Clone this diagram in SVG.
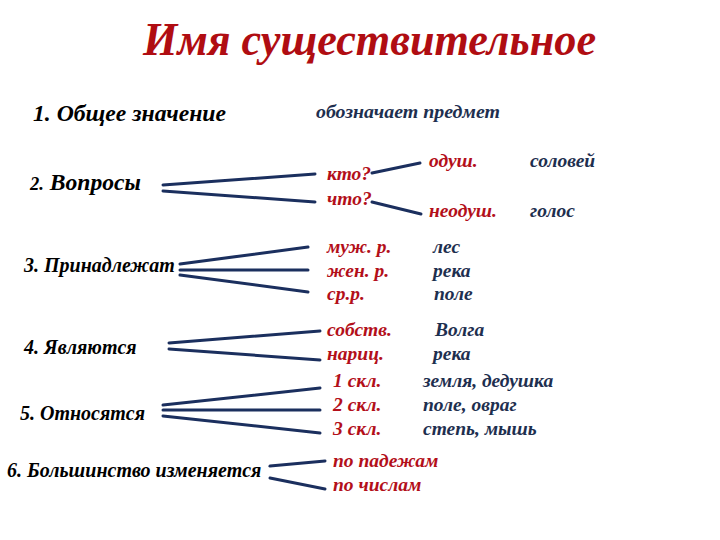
<svg xmlns="http://www.w3.org/2000/svg" width="720" height="540" viewBox="0 0 720 540">
<style>
text{font-family:"Liberation Serif","Times New Roman",serif;font-style:italic;font-weight:bold}
.t{fill:#b00d12;font-size:46px}
.h{fill:#000;font-size:20px}
.r{fill:#b30f1a;font-size:19.5px}
.b{fill:#1e2f4f;font-size:19.5px}
.c line{stroke:#1b2f5e;stroke-width:3;stroke-linecap:round}
</style>
<rect width="720" height="540" fill="#fff"/>
<text id="title" class="t" x="143" y="55" textLength="453" lengthAdjust="spacingAndGlyphs">Имя существительное</text>
<g id="n1"><text class="h" x="33" y="121" style="font-size:23px" textLength="193" lengthAdjust="spacingAndGlyphs">1. Общее значение</text></g>
<g id="n1a"><text class="b" x="316" y="118" style="font-size:19px" textLength="184" lengthAdjust="spacingAndGlyphs">обозначает предмет</text></g>
<g id="n2"><text class="h" x="30" y="190" style="font-size:23px" textLength="111" lengthAdjust="spacingAndGlyphs"><tspan style="font-size:18px">2.</tspan> Вопросы</text></g>
<g id="n2a"><text class="r" x="327" y="180">кто?</text></g>
<g id="n2b"><text class="r" x="327" y="205">что?</text></g>
<g id="n2c"><text class="r" x="429" y="167">одуш.</text><text class="b" x="530" y="167">соловей</text></g>
<g id="n2d"><text class="r" x="429" y="217">неодуш.</text><text class="b" x="530" y="217">голос</text></g>
<g id="n3"><text class="h" x="24" y="272">3. Принадлежат</text></g>
<g id="n3a"><text class="r" x="327" y="253">муж. р.</text><text class="b" x="433" y="253">лес</text></g>
<g id="n3b"><text class="r" x="327" y="277">жен. р.</text><text class="b" x="433" y="277">река</text></g>
<g id="n3c"><text class="r" x="327" y="300">ср.р.</text><text class="b" x="434" y="300">поле</text></g>
<g id="n4"><text class="h" x="24" y="354">4. Являются</text></g>
<g id="n4a"><text class="r" x="327" y="336">собств.</text><text class="b" x="435" y="336">Волга</text></g>
<g id="n4b"><text class="r" x="327" y="360">нариц.</text><text class="b" x="433" y="360">река</text></g>
<g id="n5"><text class="h" x="20" y="420">5. Относятся</text></g>
<g id="n5a"><text class="r" x="333" y="387">1 скл.</text><text class="b" x="423" y="387">земля, дедушка</text></g>
<g id="n5b"><text class="r" x="333" y="411">2 скл.</text><text class="b" x="423" y="411">поле, овраг</text></g>
<g id="n5c"><text class="r" x="333" y="435">3 скл.</text><text class="b" x="423" y="435">степь, мышь</text></g>
<g id="n6"><text class="h" x="7" y="477">6. Большинство изменяется</text></g>
<g id="n6a"><text class="r" x="333" y="467">по падежам</text></g>
<g id="n6b"><text class="r" x="333" y="491">по числам</text></g>
<g id="connectors" class="c">
<line x1="163" y1="185" x2="315" y2="174"/>
<line x1="163" y1="191" x2="315" y2="202"/>
<line x1="372" y1="173" x2="420" y2="163"/>
<line x1="372" y1="202" x2="421" y2="214"/>
<line x1="180" y1="264" x2="308" y2="247"/>
<line x1="180" y1="270" x2="308" y2="270"/>
<line x1="180" y1="275" x2="308" y2="292"/>
<line x1="169" y1="343" x2="320" y2="331"/>
<line x1="169" y1="349" x2="320" y2="360"/>
<line x1="163" y1="405" x2="320" y2="388"/>
<line x1="163" y1="410" x2="320" y2="410"/>
<line x1="163" y1="416" x2="320" y2="433"/>
<line x1="270" y1="466" x2="325" y2="461"/>
<line x1="270" y1="478" x2="325" y2="489"/>
</g>
</svg>
